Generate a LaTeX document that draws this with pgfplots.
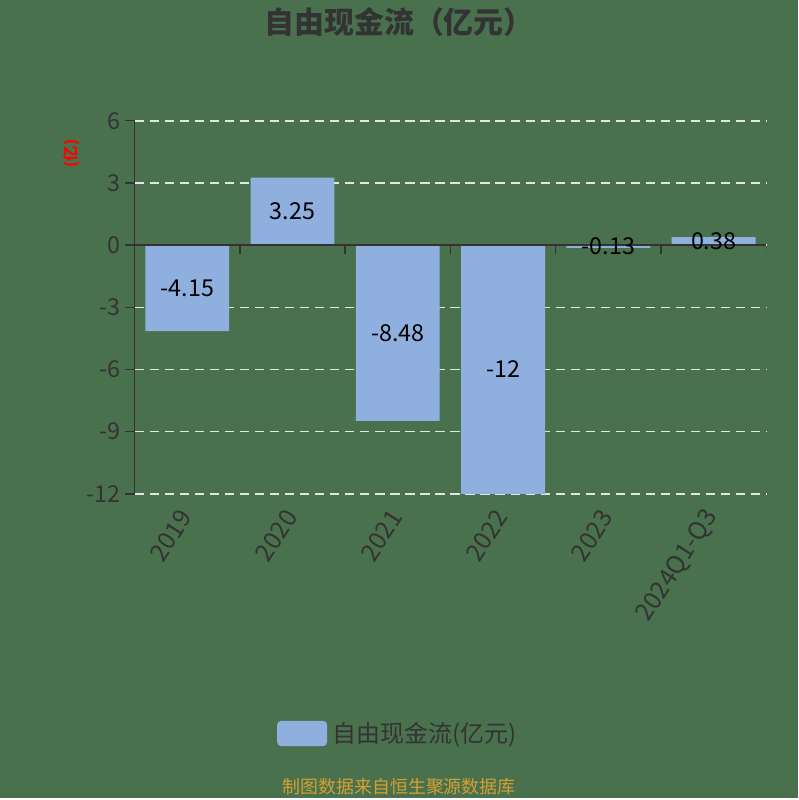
\documentclass[border=0pt]{standalone}
\usepackage{pgfplots}
\pgfplotsset{compat=1.18}
\usepackage{fontspec}
\setmainfont{Noto Sans CJK SC}

\definecolor{bgc}{RGB}{74,113,78}
\definecolor{barc}{RGB}{143,176,222}
\definecolor{txt}{RGB}{51,51,51}
\definecolor{foot}{RGB}{212,160,48}
\definecolor{gridc}{RGB}{222,232,222}

\begin{document}
\begin{tikzpicture}
% background, 800x800 px = 600x600 pt
\fill[bgc] (0,0) rectangle (600pt,600pt);
\node[font=\fontsize{22.5}{24}\selectfont\bfseries, text=txt] at (300pt,583.5pt) {自由现金流（亿元）};
\node[font=\fontsize{11.5}{12}\selectfont\bfseries, text=red, rotate=90] at (54pt,484.5pt) {(亿)};
\node[font=\fontsize{13.5}{14}\selectfont, text=foot] at (300pt,8.25pt) {制图数据来自恒生聚源数据库};

\begin{axis}[
  at={(101.25pt,228.75pt)}, anchor=south west,
  scale only axis, width=474.75pt, height=280.5pt,
  xmin=-0.5, xmax=5.5, ymin=-12, ymax=6,
  axis x line*=bottom, axis y line*=left,
  x axis line style={draw=none},
  y axis line style={draw=txt, line width=1.1pt},
  xtick={0,1,2,3,4,5},
  xticklabels={2019,2020,2021,2022,2023,2024Q1-Q3},
  x tick style={draw=none},
  xticklabel style={rotate=57, anchor=east, font=\fontsize{18.5}{19}\selectfont, text=txt, yshift=-3pt, xshift=-3pt},
  ytick={-12,-9,-6,-3,0,3,6},
  y tick style={draw=txt, line width=1.1pt},
  tick align=outside, major tick length=7pt,
  yticklabel style={font=\fontsize{17.5}{18}\selectfont, text=txt},
  /pgf/number format/assume math mode=true,
  ymajorgrids, grid style={draw=gridc, line width=1.2pt, dash pattern=on 7pt off 4.3pt},
  legend style={at={(0.417,-0.642)}, anchor=center, draw=none, fill=none,
    font=\fontsize{18}{19}\selectfont, text=txt},
  legend image code/.code={\fill[barc, rounded corners=3pt] (-3pt,-9.5pt) rectangle (34.5pt,9.5pt);},
  legend cell align=left,
]
\addplot[ybar, bar width=63pt, fill=barc, draw=none]
  coordinates {(0,-4.15) (1,3.25) (2,-8.48) (3,-12) (4,-0.13) (5,0.38)};
\addlegendentry{\hspace{2pt}自由现金流(亿元)}

\addplot[forget plot, draw=none, no markers, point meta=explicit symbolic,
  nodes near coords={\pgfplotspointmeta},
  every node near coord/.style={anchor=center, font=\fontsize{17.5}{18}\selectfont, text=black}]
  coordinates {(0,-2.075) [-4.15] (1,1.625) [3.25] (2,-4.24) [-8.48] (3,-6) [-12] (4,-0.065) [-0.13] (5,0.19) [0.38]};

% zero line with category boundary ticks
\draw[txt, line width=1.1pt] (axis cs:-0.5,0) -- (axis cs:5.5,0);
\pgfplotsinvokeforeach{0.5,1.5,2.5,3.5,4.5,5.5}{
  \draw[txt, line width=1.1pt] (axis cs:#1,0) -- ([yshift=-7pt]axis cs:#1,0);
}
\end{axis}
\end{tikzpicture}
\end{document}
